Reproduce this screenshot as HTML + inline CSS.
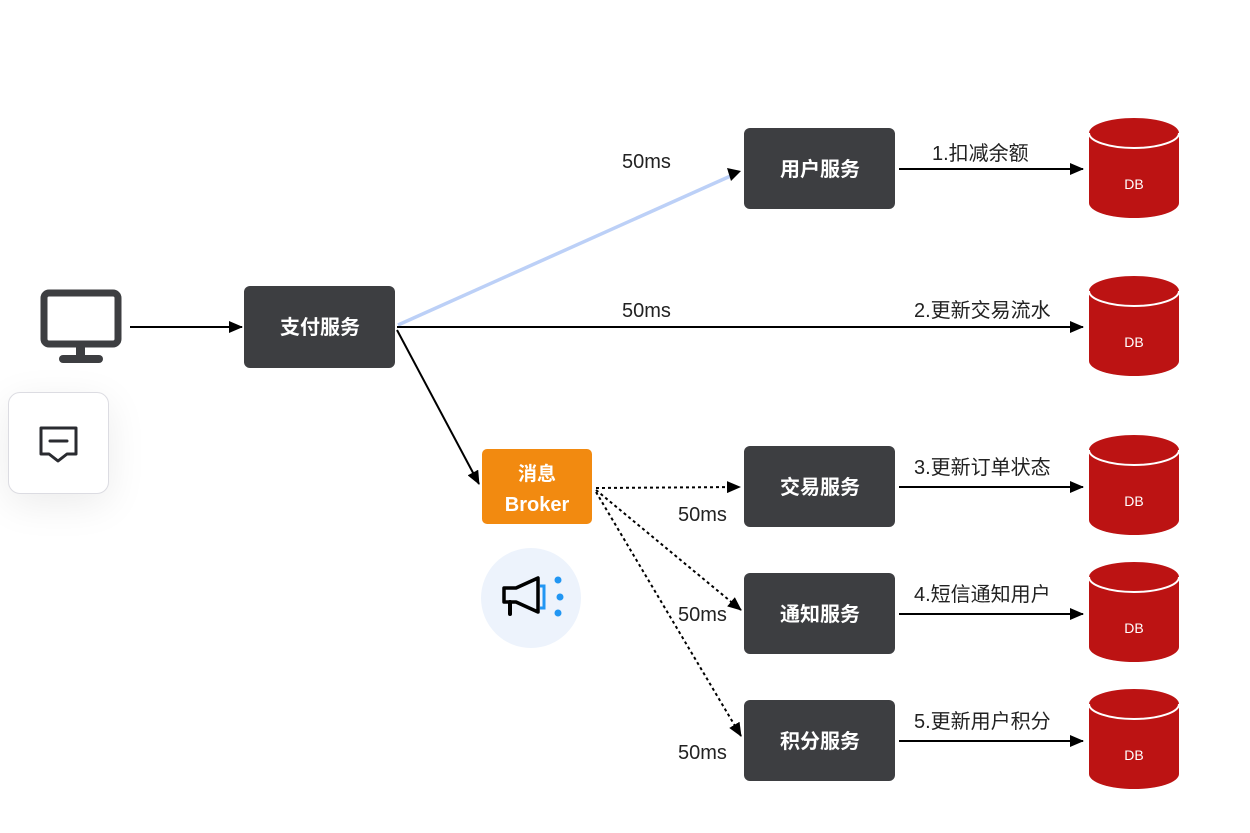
<!DOCTYPE html>
<html><head><meta charset="utf-8"><style>
body{margin:0;width:1250px;height:833px;background:#fff;overflow:hidden;position:relative;font-family:"Liberation Sans","Noto Sans CJK SC",sans-serif}
.card{position:absolute;left:8px;top:392px;width:99px;height:100px;border:1px solid #dcdce2;border-radius:12px;background:#fff;box-shadow:0 10px 40px rgba(0,0,0,0.08)}
</style></head><body>
<div class="card"></div>
<svg width="1250" height="833" style="position:absolute;left:0;top:0" font-family="Liberation Sans, Noto Sans CJK SC, sans-serif">
<defs>
<marker id="b" markerWidth="14" markerHeight="12" refX="13" refY="6" orient="auto" markerUnits="userSpaceOnUse"><path d="M0,0 L14,6 L0,12z" fill="#000"/></marker>
</defs>
<rect x="44" y="293" width="74" height="51" rx="5" fill="none" stroke="#3d3e41" stroke-width="7"/>
<rect x="76" y="347" width="9" height="10" fill="#3d3e41"/>
<rect x="59" y="355" width="44" height="8" rx="4" fill="#3d3e41"/>
<path d="M41,428 h35 v26 h-9 l-9,7 l-9,-7 h-8z" fill="none" stroke="#2a2b30" stroke-width="3" stroke-linejoin="round"/>
<line x1="50" y1="441" x2="67" y2="441" stroke="#2a2b30" stroke-width="3" stroke-linecap="round"/>
<line x1="130" y1="327" x2="242" y2="327" stroke="#000" stroke-width="2" marker-end="url(#b)"/>
<line x1="398" y1="325" x2="735" y2="174" stroke="#bcd0f7" stroke-width="3.5"/>
<path d="M727,168 L741,171 L731,181z" fill="#000"/>
<line x1="397" y1="327" x2="1083" y2="327" stroke="#000" stroke-width="2" marker-end="url(#b)"/>
<line x1="397" y1="330" x2="479" y2="484" stroke="#000" stroke-width="2" marker-end="url(#b)"/>
<g stroke="#000" stroke-width="2" stroke-dasharray="3,3">
<line x1="596" y1="488" x2="740" y2="487" marker-end="url(#b)"/>
<line x1="596" y1="490" x2="741" y2="610" marker-end="url(#b)"/>
<line x1="596" y1="492" x2="741" y2="736" marker-end="url(#b)"/>
</g>
<g stroke="#000" stroke-width="2">
<line x1="899" y1="169" x2="1083" y2="169" marker-end="url(#b)"/>
<line x1="899" y1="487" x2="1083" y2="487" marker-end="url(#b)"/>
<line x1="899" y1="614" x2="1083" y2="614" marker-end="url(#b)"/>
<line x1="899" y1="741" x2="1083" y2="741" marker-end="url(#b)"/>
</g>
<g fill="#3d3e41">
<rect x="244" y="286" width="151" height="82" rx="6"/>
<rect x="744" y="128" width="151" height="81" rx="6"/>
<rect x="744" y="446" width="151" height="81" rx="6"/>
<rect x="744" y="573" width="151" height="81" rx="6"/>
<rect x="744" y="700" width="151" height="81" rx="6"/>
</g>
<rect x="482" y="449" width="110" height="75" rx="5" fill="#f28a10"/>
<g fill="#fff" font-size="20" font-weight="bold" text-anchor="middle">
<text x="320" y="334">支付服务</text>
<text x="820" y="176">用户服务</text>
<text x="820" y="494">交易服务</text>
<text x="820" y="621">通知服务</text>
<text x="820" y="748">积分服务</text>
<text x="537" y="480" font-size="19">消息</text>
<text x="537" y="511" font-size="20">Broker</text>
</g>
<circle cx="531" cy="598" r="50" fill="#edf3fc"/>
<path d="M504,588 h12 l22,-10 v34 l-22,-10 h-12z" fill="none" stroke="#000" stroke-width="3.5" stroke-linejoin="round"/>
<path d="M510,602 v12" stroke="#000" stroke-width="4" stroke-linecap="round"/>
<path d="M540,586 h4 v22 h-4" fill="none" stroke="#2196f3" stroke-width="3"/>
<g fill="#2196f3"><circle cx="558" cy="580" r="3.5"/><circle cx="560" cy="597" r="3.5"/><circle cx="558" cy="613" r="3.5"/></g>
<g font-size="20" fill="#222">
<text x="622" y="168">50ms</text>
<text x="622" y="317">50ms</text>
<text x="678" y="521">50ms</text>
<text x="678" y="621">50ms</text>
<text x="678" y="759">50ms</text>
<text x="932" y="160">1.扣减余额</text>
<text x="914" y="317">2.更新交易流水</text>
<text x="914" y="474">3.更新订单状态</text>
<text x="914" y="601">4.短信通知用户</text>
<text x="914" y="728">5.更新用户积分</text>
</g>
<g id="db">
<path d="M1089,133 v70 a45,15 0 0 0 90,0 v-70 a45,15 0 0 0 -90,0z" fill="#bc1313"/>
<path d="M1089,133 a45,15 0 0 0 90,0" fill="none" stroke="#fff" stroke-width="2"/>
<text x="1134" y="189" font-size="14" fill="#fff" text-anchor="middle">DB</text>
</g>
<use href="#db" y="158"/>
<use href="#db" y="317"/>
<use href="#db" y="444"/>
<use href="#db" y="571"/>
</svg>
</body></html>
